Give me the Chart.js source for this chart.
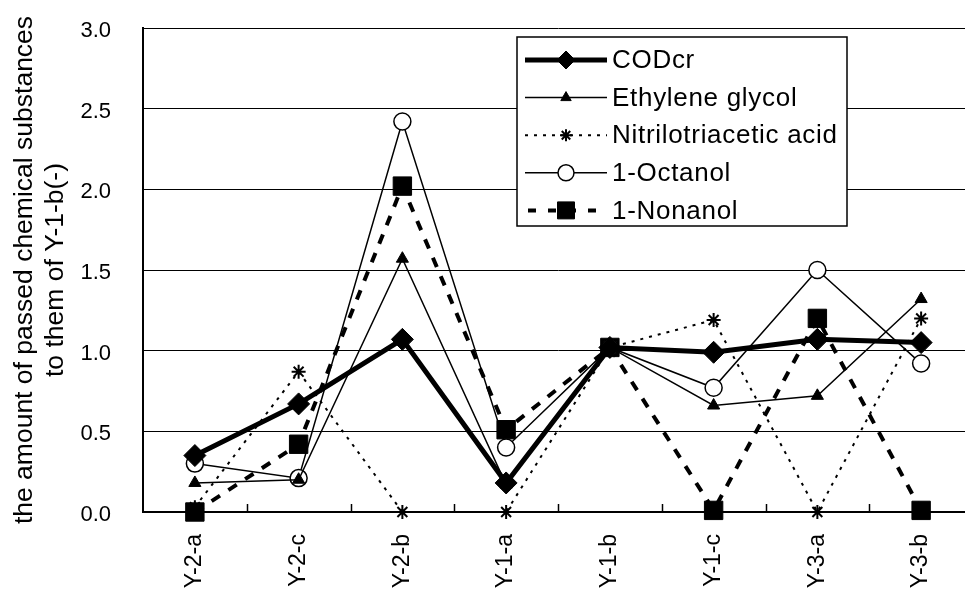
<!DOCTYPE html>
<html><head><meta charset="utf-8">
<script src="https://cdn.jsdelivr.net/npm/chart.js@4.4.0/dist/chart.umd.min.js"></script>
<style>html,body{margin:0;padding:0;overflow:hidden;background:#fff;width:965px;height:610px}canvas{display:block}</style>
</head><body>
<canvas id="c" width="987" height="610"></canvas>
<script>
const categories = ['Y-2-a','Y-2-c','Y-2-b','Y-1-a','Y-1-b','Y-1-c','Y-3-a','Y-3-b'];
const codcr = [0.35, 0.67, 1.07, 0.18, 1.02, 0.99, 1.07, 1.05];
const ethyleneGlycol = [0.18, 0.20, 1.57, 0.17, 1.02, 0.66, 0.72, 1.32];
const nitrilotriaceticAcid = [0.03, 0.87, 0.00, 0.00, 1.02, 1.19, 0.00, 1.20];
const octanol = [0.30, 0.21, 2.42, 0.40, 1.02, 0.77, 1.50, 0.92];
const nonanol = [0.00, 0.42, 2.02, 0.51, 1.02, 0.01, 1.20, 0.01];
const seriesNames = ['CODcr', 'Ethylene glycol', 'Nitrilotriacetic acid', '1-Octanol', '1-Nonanol'];
const yTitleLines = ['the amount of passed chemical substances', 'to them of Y-1-b(-)'];
const yMin = 0, yMax = 3.0, yStep = 0.5;

const FONT = '"Liberation Sans", Arial, sans-serif';
const legendRadii = [9, 6, 6, 8, 12];

const datasets = [
  {label: seriesNames[0], data: codcr, borderColor:'#000', borderWidth:5, pointStyle:'rectRot', pointRadius:11, pointBackgroundColor:'#000', pointBorderColor:'#000', pointBorderWidth:1},
  {label: seriesNames[1], data: ethyleneGlycol, borderColor:'#000', borderWidth:1.5, pointStyle:'triangle', pointRadius:7, pointBackgroundColor:'#000', pointBorderColor:'#000', pointBorderWidth:1},
  {label: seriesNames[2], data: nitrilotriaceticAcid, borderColor:'#000', borderWidth:2, borderDash:[3,6], pointStyle:'star', pointRadius:7, pointBackgroundColor:'#000', pointBorderColor:'#000', pointBorderWidth:2},
  {label: seriesNames[3], data: octanol, borderColor:'#000', borderWidth:1.5, pointStyle:'circle', pointRadius:8.5, pointBackgroundColor:'#fff', pointBorderColor:'#000', pointBorderWidth:1.5},
  {label: seriesNames[4], data: nonanol, borderColor:'#000', borderWidth:4, borderDash:[10,10], pointStyle:'rect', pointRadius:13, pointBackgroundColor:'#000', pointBorderColor:'#000', pointBorderWidth:1}
].map(d => Object.assign({tension:0, fill:false, clip:false, pointHoverRadius:d.pointRadius}, d));

const yTitlePlugin = {
  id: 'yTitle',
  afterDraw(chart) {
    const ctx = chart.ctx, ca = chart.chartArea;
    const cy = (ca.top + ca.bottom) / 2;
    ctx.save();
    ctx.fillStyle = '#000';
    ctx.font = '26.5px ' + FONT;
    ctx.textAlign = 'center';
    ctx.textBaseline = 'alphabetic';
    const xs = [32, 63];
    yTitleLines.forEach((t, i) => {
      ctx.save();
      ctx.translate(xs[i], cy);
      ctx.rotate(-Math.PI / 2);
      ctx.fillText(t, 0, 0);
      ctx.restore();
    });
    ctx.restore();
  }
};

const innerTicksPlugin = {
  id: 'innerTicks',
  beforeDatasetsDraw(chart) {
    const ctx = chart.ctx, xs = chart.scales.x, b = chart.chartArea.bottom;
    ctx.save();
    ctx.strokeStyle = '#000';
    ctx.lineWidth = 1.5;
    for (let i = 1; i < categories.length; i++) {
      const x = Math.round(xs.getPixelForValue(i - 0.5)) + 0.5;
      ctx.beginPath(); ctx.moveTo(x, b); ctx.lineTo(x, b - 8); ctx.stroke();
    }
    ctx.restore();
  }
};

const boxLegendPlugin = {
  id: 'boxLegend',
  afterDraw(chart) {
    const ctx = chart.ctx;
    const bx = 517, by = 37, bw = 330, bh = 189;
    ctx.save();
    ctx.fillStyle = '#fff';
    ctx.fillRect(bx, by, bw, bh);
    ctx.strokeStyle = '#000';
    ctx.lineWidth = 1.5;
    ctx.strokeRect(bx, by, bw, bh);
    chart.data.datasets.forEach((ds, i) => {
      const y = 60 + i * 37.6;
      ctx.save();
      ctx.strokeStyle = '#000';
      ctx.lineWidth = ds.borderWidth;
      ctx.setLineDash(i === 4 ? [8, 12] : (ds.borderDash || []));
      ctx.beginPath();
      ctx.moveTo(i === 4 ? 528 : 525, y);
      ctx.lineTo(i === 4 ? 602 : 607, y);
      ctx.stroke();
      ctx.restore();
      ctx.save();
      ctx.fillStyle = ds.pointBackgroundColor;
      ctx.strokeStyle = ds.pointBorderColor;
      ctx.lineWidth = ds.pointBorderWidth;
      ctx.setLineDash([]);
      Chart.helpers.drawPoint(ctx, {pointStyle: ds.pointStyle, radius: legendRadii[i], borderWidth: ds.pointBorderWidth, rotation: 0}, 566, y);
      ctx.restore();
      ctx.save();
      ctx.fillStyle = '#000';
      ctx.font = '26px ' + FONT;
      try { ctx.letterSpacing = '0.7px'; } catch (e) {}
      ctx.textAlign = 'left';
      ctx.textBaseline = 'middle';
      ctx.fillText(ds.label, 612, y + 1);
      ctx.restore();
    });
    ctx.restore();
  }
};

new Chart(document.getElementById('c'), {
  type: 'line',
  data: {labels: categories, datasets},
  options: {
    responsive: false,
    devicePixelRatio: 1,
    animation: false,
    events: [],
    layout: {padding: {top: 28, left: 0, right: 0, bottom: 0}},
    plugins: {legend: {display: false}, tooltip: {enabled: false}, title: {display: false}},
    scales: {
      x: {
        type: 'category',
        offset: true,
        grid: {display: true, drawOnChartArea: false, drawTicks: false, offset: true},
        border: {display: true, color: '#000', width: 2},
        ticks: {color: '#000', font: {family: FONT, size: 23}, padding: 22, minRotation: 90, maxRotation: 90, autoSkip: false},
        afterFit(scale) { scale.height = 98; }
      },
      y: {
        min: yMin, max: yMax,
        grid: {color: '#000', lineWidth: 1, drawTicks: false},
        border: {display: true, color: '#000', width: 2},
        ticks: {stepSize: yStep, color: '#000', font: {family: FONT, size: 22}, padding: 32, labelOffset: 3, callback: v => Number(v).toFixed(1)},
        afterFit(scale) { scale.width = 143; scale.paddingTop = 0; scale.paddingBottom = 0; }
      }
    }
  },
  plugins: [innerTicksPlugin, yTitlePlugin, boxLegendPlugin]
});
</script>
</body></html>
